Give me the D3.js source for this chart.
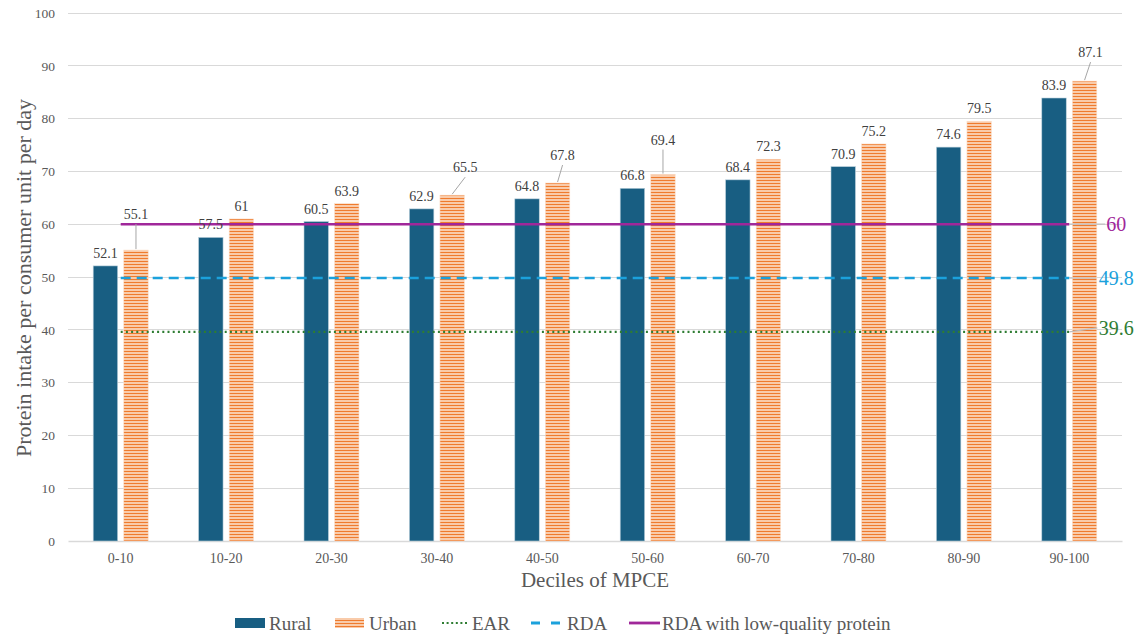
<!DOCTYPE html>
<html>
<head>
<meta charset="utf-8">
<script src="https://cdn.jsdelivr.net/npm/d3@7"></script>
<style>
  html, body { margin: 0; padding: 0; background: #fff; }
  svg { display: block; font-family: "Liberation Serif", "Times New Roman", serif; }
</style>
</head>
<body>
<svg id="chart" width="1138" height="637"></svg>
<script>
// Protein intake by MPCE decile, rural vs urban, with reference requirements
const deciles = ["0-10", "10-20", "20-30", "30-40", "40-50", "50-60", "60-70", "70-80", "80-90", "90-100"];
const rural = [52.1, 57.5, 60.5, 62.9, 64.8, 66.8, 68.4, 70.9, 74.6, 83.9];
const urban = [55.1, 61, 63.9, 65.5, 67.8, 69.4, 72.3, 75.2, 79.5, 87.1];
const earValue = 39.6;
const rdaValue = 49.8;
const rdaLowValue = 60;
const yTicks = [0, 10, 20, 30, 40, 50, 60, 70, 80, 90, 100];

// Hand-placed offsets for urban labels that would otherwise collide with lines/labels
const urbanLabelShift = {
  0: { dx: 0, dy: -23 },
  3: { dx: 13, dy: -15 },
  4: { dx: 5, dy: -15 },
  5: { dx: 0, dy: -22 },
  9: { dx: 6, dy: -16 }
};

const svg = d3.select("#chart");
const FONT = "Liberation Serif, Times New Roman, serif";
const margin = { left: 68, right: 16, top: 13, bottom: 96 };
const W = 1138, H = 637;
const plotL = margin.left, plotR = W - margin.right;
const plotT = margin.top, plotB = H - margin.bottom;

const x0 = d3.scaleBand().domain(deciles).range([plotL, plotR]).paddingInner(0).paddingOuter(0);
const groupW = 55;
const x1 = d3.scaleBand().domain(["Rural", "Urban"]).range([0, groupW]).paddingInner(0.2);
const y = d3.scaleLinear().domain([0, 100]).range([plotB, plotT]);
const cx = d => x0(d) + x0.bandwidth() / 2;
const gx = d => cx(d) - groupW / 2;

const defs = svg.append("defs");
const pat = defs.append("pattern")
  .attr("id", "urbanStripes").attr("patternUnits", "userSpaceOnUse")
  .attr("width", 6).attr("height", 3);
pat.append("rect").attr("width", 6).attr("height", 3).attr("fill", "#F9CBAA");
pat.append("rect").attr("width", 6).attr("height", 1).attr("fill", "#EF7B2E");

const textGrey = "#595959";

// Gridlines
svg.append("g")
  .selectAll("line").data(yTicks.filter(t => t > 0)).join("line")
  .attr("x1", plotL).attr("x2", plotR)
  .attr("y1", d => y(d)).attr("y2", d => y(d))
  .attr("stroke", "#d9d9d9").attr("stroke-width", 1).attr("shape-rendering", "crispEdges");

// Y axis
const yAxis = svg.append("g")
  .attr("transform", `translate(${plotL},0)`)
  .call(d3.axisLeft(y).tickValues(yTicks).tickSize(0).tickPadding(13));
yAxis.select(".domain").remove();
yAxis.attr("font-family", FONT);
yAxis.selectAll("text").attr("fill", textGrey).style("font-size", "13.5px");

// X axis
const xAxis = svg.append("g")
  .attr("transform", `translate(0,${plotB})`)
  .call(d3.axisBottom(x0).tickSize(0).tickPadding(12));
xAxis.attr("font-family", FONT);
xAxis.select(".domain").attr("stroke", "#d9d9d9").attr("stroke-width", 1.3);
xAxis.selectAll("text").attr("fill", textGrey).style("font-size", "14px");

// Bars
svg.append("g").selectAll("rect").data(deciles).join("rect")
  .attr("x", d => gx(d) + x1("Rural"))
  .attr("width", x1.bandwidth())
  .attr("y", (d, i) => y(rural[i]))
  .attr("height", (d, i) => y(0) - y(rural[i]))
  .attr("fill", "#185E82")
  .attr("stroke", "#b9cfdb").attr("stroke-width", 0.6);

svg.append("g").selectAll("rect").data(deciles).join("rect")
  .attr("x", d => gx(d) + x1("Urban"))
  .attr("width", x1.bandwidth())
  .attr("y", (d, i) => y(urban[i]))
  .attr("height", (d, i) => y(0) - y(urban[i]))
  .attr("fill", "url(#urbanStripes)")
  .attr("stroke", "#fbe0cc").attr("stroke-width", 0.6);

// Reference lines, spanning first to last decile centre
const lineStart = cx(deciles[0]);
const lineEnd = cx(deciles[deciles.length - 1]);
const refs = [
  { v: earValue, color: "#2E7D32", dash: "2,3.2", w: 2.2, dy: -4, lead: 28 },
  { v: rdaValue, color: "#1BA1DC", dash: "10,6", w: 2.6, dy: 0, lead: 27 },
  { v: rdaLowValue, color: "#A0279A", dash: null, w: 2.6, dy: 0, lead: 36 }
];
const refG = svg.append("g");
refs.forEach(r => {
  refG.append("line")
    .attr("x1", lineStart).attr("x2", lineEnd)
    .attr("y1", y(r.v)).attr("y2", y(r.v))
    .attr("stroke", r.color).attr("stroke-width", r.w)
    .attr("stroke-dasharray", r.dash);
  refG.append("line")
    .attr("x1", lineEnd).attr("x2", lineEnd + r.lead)
    .attr("y1", y(r.v)).attr("y2", y(r.v) + r.dy)
    .attr("stroke", "#bfbfbf").attr("stroke-width", 1.2);
  refG.append("text")
    .attr("x", lineEnd + 47).attr("y", y(r.v) + r.dy)
    .attr("dy", "0.35em").attr("text-anchor", "middle")
    .attr("fill", r.color).style("font-size", "20px")
    .text(r.v);
});

// Data labels
const lblColor = "#404040";
const lblG = svg.append("g").style("font-size", "14px").attr("fill", lblColor);
deciles.forEach((d, i) => {
  const rx = gx(d) + x1("Rural") + x1.bandwidth() / 2;
  lblG.append("text").attr("x", rx).attr("y", y(rural[i]) - 8)
    .attr("text-anchor", "middle").attr("fill", lblColor).text(rural[i]);
  const ux = gx(d) + x1("Urban") + x1.bandwidth() / 2;
  const s = urbanLabelShift[i] || { dx: 0, dy: 0 };
  const ly = y(urban[i]) - 8 + s.dy;
  if (s.dy !== 0) {
    lblG.append("line")
      .attr("x1", ux + s.dx).attr("y1", ly + 5)
      .attr("x2", ux).attr("y2", y(urban[i]) - 1)
      .attr("stroke", "#a6a6a6").attr("stroke-width", 1);
  }
  lblG.append("text").attr("x", ux + s.dx).attr("y", ly)
    .attr("text-anchor", "middle").attr("fill", lblColor).text(urban[i]);
});

// Axis titles
svg.append("text")
  .attr("transform", `translate(31,278) rotate(-90)`)
  .attr("text-anchor", "middle").attr("fill", textGrey)
  .style("font-size", "22px")
  .text("Protein intake per consumer unit per day");
svg.append("text")
  .attr("x", (plotL + plotR) / 2).attr("y", 587)
  .attr("text-anchor", "middle").attr("fill", textGrey)
  .style("font-size", "21px")
  .text("Deciles of MPCE");

// Legend
const legend = svg.append("g").attr("transform", "translate(0,623)");
const items = [
  { x: 235, w: 30, tx: 34, label: "Rural", type: "rural" },
  { x: 335, w: 29, tx: 34, label: "Urban", type: "urban" },
  { x: 442, w: 25, tx: 30, label: "EAR", type: "ear" },
  { x: 531, w: 29, tx: 36, label: "RDA", type: "rda" },
  { x: 629, w: 31, tx: 33, label: "RDA with low-quality protein", type: "rdalow" }
];
items.forEach(it => {
  const g = legend.append("g").attr("transform", `translate(${it.x},0)`);
  if (it.type === "rural") {
    g.append("rect").attr("x", 0).attr("y", -5).attr("width", it.w).attr("height", 10).attr("fill", "#185E82");
  } else if (it.type === "urban") {
    g.append("rect").attr("x", 0).attr("y", -5).attr("width", it.w).attr("height", 10).attr("fill", "url(#urbanStripes)");
  } else if (it.type === "ear") {
    g.append("line").attr("x1", 0).attr("x2", it.w).attr("y1", 0).attr("y2", 0)
      .attr("stroke", "#2E7D32").attr("stroke-width", 2.2).attr("stroke-dasharray", "2,2.6");
  } else if (it.type === "rda") {
    g.append("line").attr("x1", 0).attr("x2", it.w).attr("y1", 0).attr("y2", 0)
      .attr("stroke", "#1BA1DC").attr("stroke-width", 2.8).attr("stroke-dasharray", "9,11");
  } else {
    g.append("line").attr("x1", 0).attr("x2", it.w).attr("y1", 0).attr("y2", 0)
      .attr("stroke", "#A0279A").attr("stroke-width", 2.8);
  }
  g.append("text").attr("x", it.tx)
    .attr("y", 0).attr("dy", "0.35em").attr("fill", textGrey)
    .style("font-size", "19px").text(it.label);
});
</script>
</body>
</html>
